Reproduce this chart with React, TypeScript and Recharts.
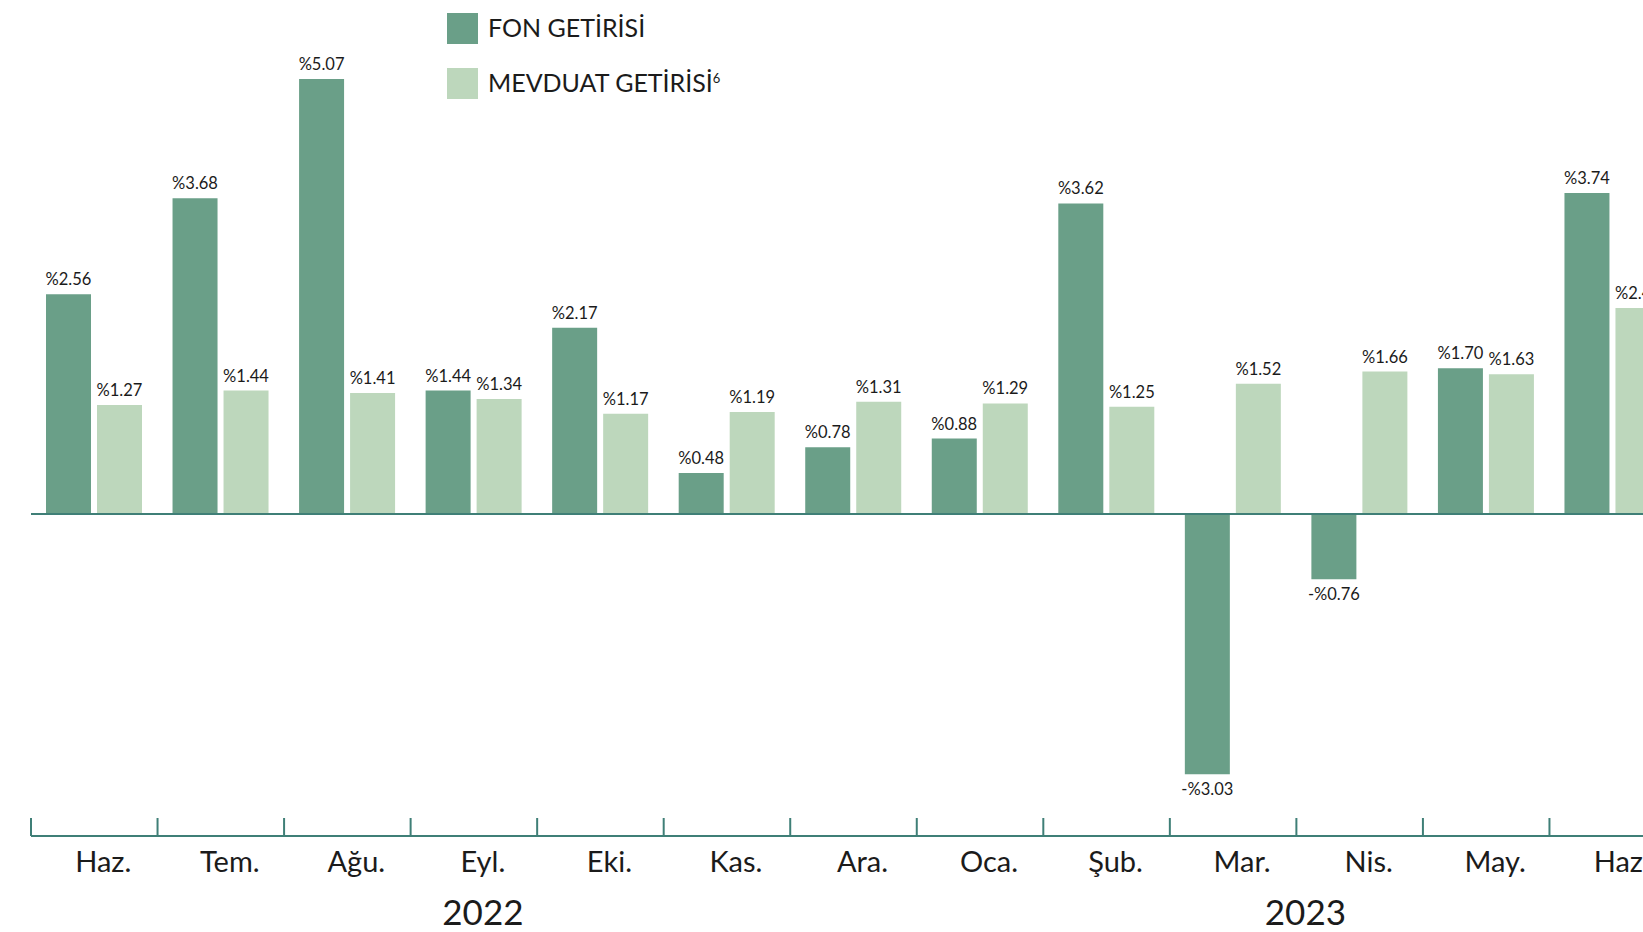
import React from "react"
import { BarChart, Bar, XAxis, YAxis, ReferenceLine, Legend, LabelList } from "recharts"

const months = ["Haz.", "Tem.", "Ağu.", "Eyl.", "Eki.", "Kas.", "Ara.", "Oca.", "Şub.", "Mar.", "Nis.", "May.", "Haz."]
const fonGetirisi = [2.56, 3.68, 5.07, 1.44, 2.17, 0.48, 0.78, 0.88, 3.62, -3.03, -0.76, 1.7, 3.74]
const mevduatGetirisi = [1.27, 1.44, 1.41, 1.34, 1.17, 1.19, 1.31, 1.29, 1.25, 1.52, 1.66, 1.63, 2.4]
const years = [
  { label: "2022", from: 0, to: 6 },
  { label: "2023", from: 7, to: 12 },
]

const FON_COLOR = "#6a9f88"
const MEVDUAT_COLOR = "#bdd7bc"
const AXIS_COLOR = "#3f7f77"
const TEXT_COLOR = "#1b1b1b"
const FONT = "Lato, 'Noto Sans', sans-serif"
// labels under the axis sit a little right of the band centre
const LABEL_SHIFT = 9

const data = months.map((month, i) => ({
  month,
  fon: fonGetirisi[i],
  mevduat: mevduatGetirisi[i],
}))

const fmt = (v: number) => (v >= 0 ? `%${v.toFixed(2)}` : `-%${Math.abs(v).toFixed(2)}`)

function ValueLabel(props: any) {
  const { x, y, width, height, value } = props
  const v = Number(value)
  const top = Math.min(y, y + height)
  const bottom = Math.max(y, y + height)
  const cx = x + width / 2
  return (
    <text
      x={cx}
      y={v >= 0 ? top - 9 : bottom + 21}
      textAnchor="middle"
      fontSize={16.5}
      fontFamily={FONT}
      fill={TEXT_COLOR}
    >
      {fmt(v)}
    </text>
  )
}

function MonthTick(props: any) {
  const { x, y, payload } = props
  const half = payload.offset ?? 0
  const idx = payload.index
  const year = years.find((yr) => Math.ceil((yr.from + yr.to) / 2) === idx)
  let yearX = x
  if (year && (year.from + year.to) % 2 !== 0) yearX = x - half
  return (
    <g>
      <line x1={x - half} y1={y - 18} x2={x - half} y2={y} stroke={AXIS_COLOR} strokeWidth={2} />
      <text x={x + LABEL_SHIFT} y={y + 36} textAnchor="middle" fontSize={29} fontFamily={FONT} fill={TEXT_COLOR}>
        {payload.value}
      </text>
      {year && (
        <text x={yearX + LABEL_SHIFT} y={y + 89} textAnchor="middle" fontSize={35} fontFamily={FONT} fill={TEXT_COLOR}>
          {year.label}
        </text>
      )}
    </g>
  )
}

function LegendContent() {
  const items = [
    { name: "FON GETİRİSİ", color: FON_COLOR, sup: "" },
    { name: "MEVDUAT GETİRİSİ", color: MEVDUAT_COLOR, sup: "6" },
  ]
  return (
    <div style={{ fontFamily: FONT, color: TEXT_COLOR }}>
      {items.map((it) => (
        <div key={it.name} style={{ display: "flex", alignItems: "center", height: 31, marginBottom: 24 }}>
          <span style={{ width: 31, height: 31, background: it.color, display: "inline-block", marginRight: 10 }} />
          <span style={{ fontSize: 25, whiteSpace: "nowrap", position: "relative", top: -2 }}>
            {it.name}
            {it.sup && <sup style={{ fontSize: 13 }}>{it.sup}</sup>}
          </span>
        </div>
      ))}
    </div>
  )
}

export default function App() {
  return (
    <div style={{ position: "fixed", left: 0, top: 0, width: 1643, height: 932, overflow: "hidden", background: "#fff" }}>
      <BarChart
        width={1676}
        height={932}
        data={data}
        margin={{ top: 42, right: 0, bottom: 0, left: 31 }}
        barCategoryGap={15}
        barGap={6}
      >
        <XAxis
          dataKey="month"
          height={96}
          tickSize={0}
          tickMargin={0}
          interval={0}
          axisLine={{ stroke: AXIS_COLOR, strokeWidth: 2 }}
          tick={<MonthTick />}
        />
        <YAxis hide domain={[-3.75, 5.5]} allowDataOverflow />
        <Legend
          layout="horizontal"
          verticalAlign="middle"
          align="center"
          content={<LegendContent />}
          wrapperStyle={{ top: 13, left: 447, width: 400 }}
        />
        <ReferenceLine y={0} stroke={AXIS_COLOR} strokeWidth={2} />
        <Bar dataKey="fon" name="FON GETİRİSİ" fill={FON_COLOR} isAnimationActive={false}>
          <LabelList dataKey="fon" content={<ValueLabel />} />
        </Bar>
        <Bar dataKey="mevduat" name="MEVDUAT GETİRİSİ" fill={MEVDUAT_COLOR} isAnimationActive={false}>
          <LabelList dataKey="mevduat" content={<ValueLabel />} />
        </Bar>
      </BarChart>
    </div>
  )
}
